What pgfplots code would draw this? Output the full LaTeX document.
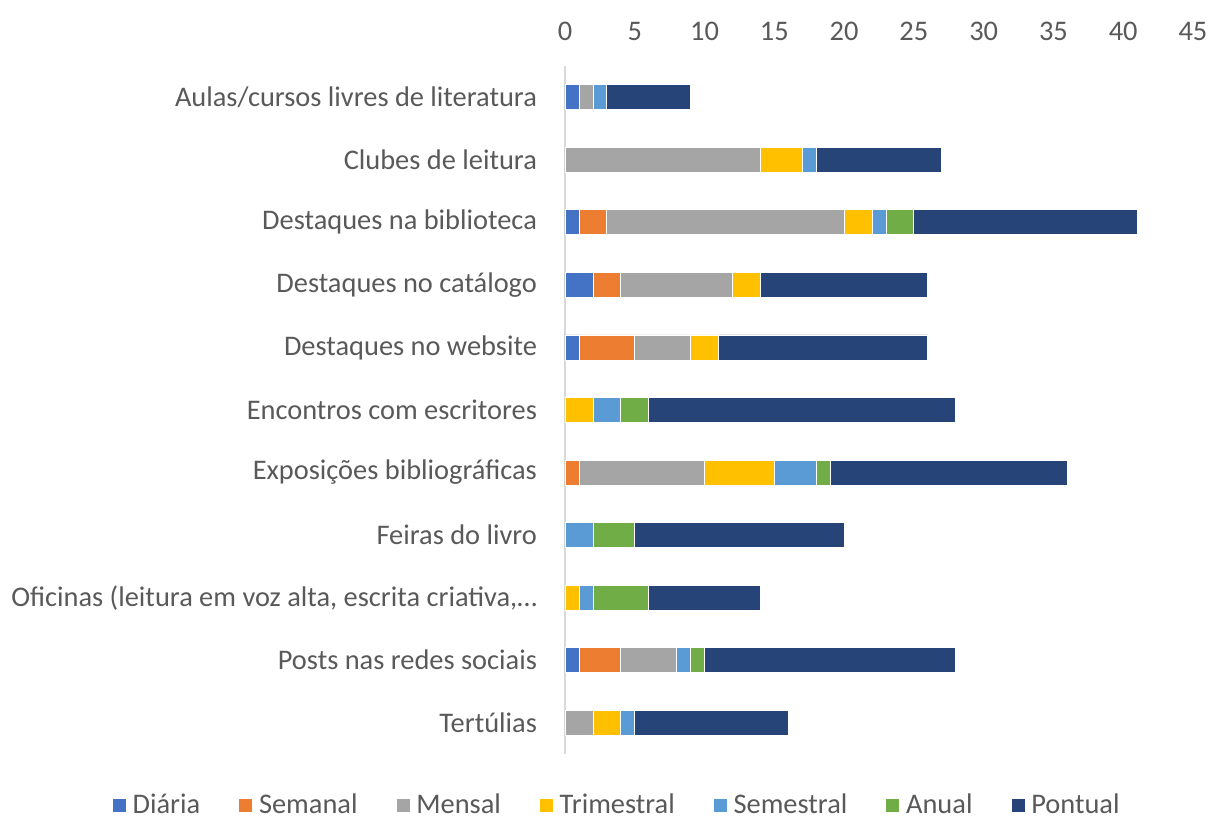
\documentclass[border=0pt]{standalone}
\usepackage{pgfplots}
\pgfplotsset{compat=1.18}
\usepackage{fontspec}
\setmainfont{Carlito}

\definecolor{cDiaria}{HTML}{4472C4}
\definecolor{cSemanal}{HTML}{ED7D31}
\definecolor{cMensal}{HTML}{A5A5A5}
\definecolor{cTrim}{HTML}{FFC000}
\definecolor{cSemest}{HTML}{5B9BD5}
\definecolor{cAnual}{HTML}{70AD47}
\definecolor{cPontual}{HTML}{264478}
\definecolor{txt}{HTML}{595959}

% rows: 0 = Aulas ... 10 = Tertulias
\pgfplotstableread{
y diaria semanal mensal trim semest anual pontual
0 1 0 1 0 1 0 6
1 0 0 14 3 1 0 9
2 1 2 17 2 1 2 16
3 2 2 8 2 0 0 12
4 1 4 4 2 0 0 15
5 0 0 0 2 2 2 22
6 0 1 9 5 3 1 17
7 0 0 0 0 2 3 15
8 0 0 0 1 1 4 8
9 1 3 4 0 1 1 18
10 0 0 2 2 1 0 11
}\data

\begin{document}
\begin{tikzpicture}
\begin{axis}[
  scale only axis,
  width=314pt, height=344pt,
  xbar stacked,
  bar width=12.5pt,
  xmin=0, xmax=45,
  ymin=-0.5, ymax=10.5,
  y dir=reverse,
  xtick={0,5,...,45},
  ytick={0,...,10},
  yticklabels={Aulas/cursos livres de literatura, Clubes de leitura, Destaques na biblioteca, Destaques no catálogo, Destaques no website, Encontros com escritores, Exposições bibliográficas, Feiras do livro, {Oficinas (leitura em voz alta, escrita criativa,…}, Posts nas redes sociais, Tertúlias},
  xticklabel pos=top,
  axis x line*=top,
  axis y line*=left,
  x axis line style={draw=none},
  y axis line style={draw=black!15, line width=1pt},
  major tick length=0pt,
  tick label style={font=\fontsize{14.2}{17}\selectfont, text=txt},
  xticklabel style={yshift=9pt},
  yticklabel style={xshift=-10.5pt},
  /pgf/number format/assume math mode=true,
  legend columns=7,
  legend style={at={(0.084,-0.074)}, anchor=center, draw=none, fill=none,
    font=\fontsize{14.2}{17}\selectfont, text=txt,
    /tikz/every odd column/.append style={column sep=1pt},
    /tikz/every even column/.append style={column sep=17pt}},
  legend image code/.code={\fill[#1] (0pt,-3.5pt) rectangle (7pt,3.5pt);},
  every axis plot/.append style={draw=white, line width=0.4pt},
]
\addplot[fill=cDiaria] table[x=diaria,y=y]{\data};
\addlegendentry{Diária}
\addplot[fill=cSemanal] table[x=semanal,y=y]{\data};
\addlegendentry{Semanal}
\addplot[fill=cMensal] table[x=mensal,y=y]{\data};
\addlegendentry{Mensal}
\addplot[fill=cTrim] table[x=trim,y=y]{\data};
\addlegendentry{Trimestral}
\addplot[fill=cSemest] table[x=semest,y=y]{\data};
\addlegendentry{Semestral}
\addplot[fill=cAnual] table[x=anual,y=y]{\data};
\addlegendentry{Anual}
\addplot[fill=cPontual] table[x=pontual,y=y]{\data};
\addlegendentry{Pontual}
\coordinate (ll) at (axis description cs:0,0);
\end{axis}
\pgfresetboundingbox
\path[shift={(ll)}] (-282.5pt,-32.5pt) rectangle (322.5pt,377pt);
\end{tikzpicture}
\end{document}
